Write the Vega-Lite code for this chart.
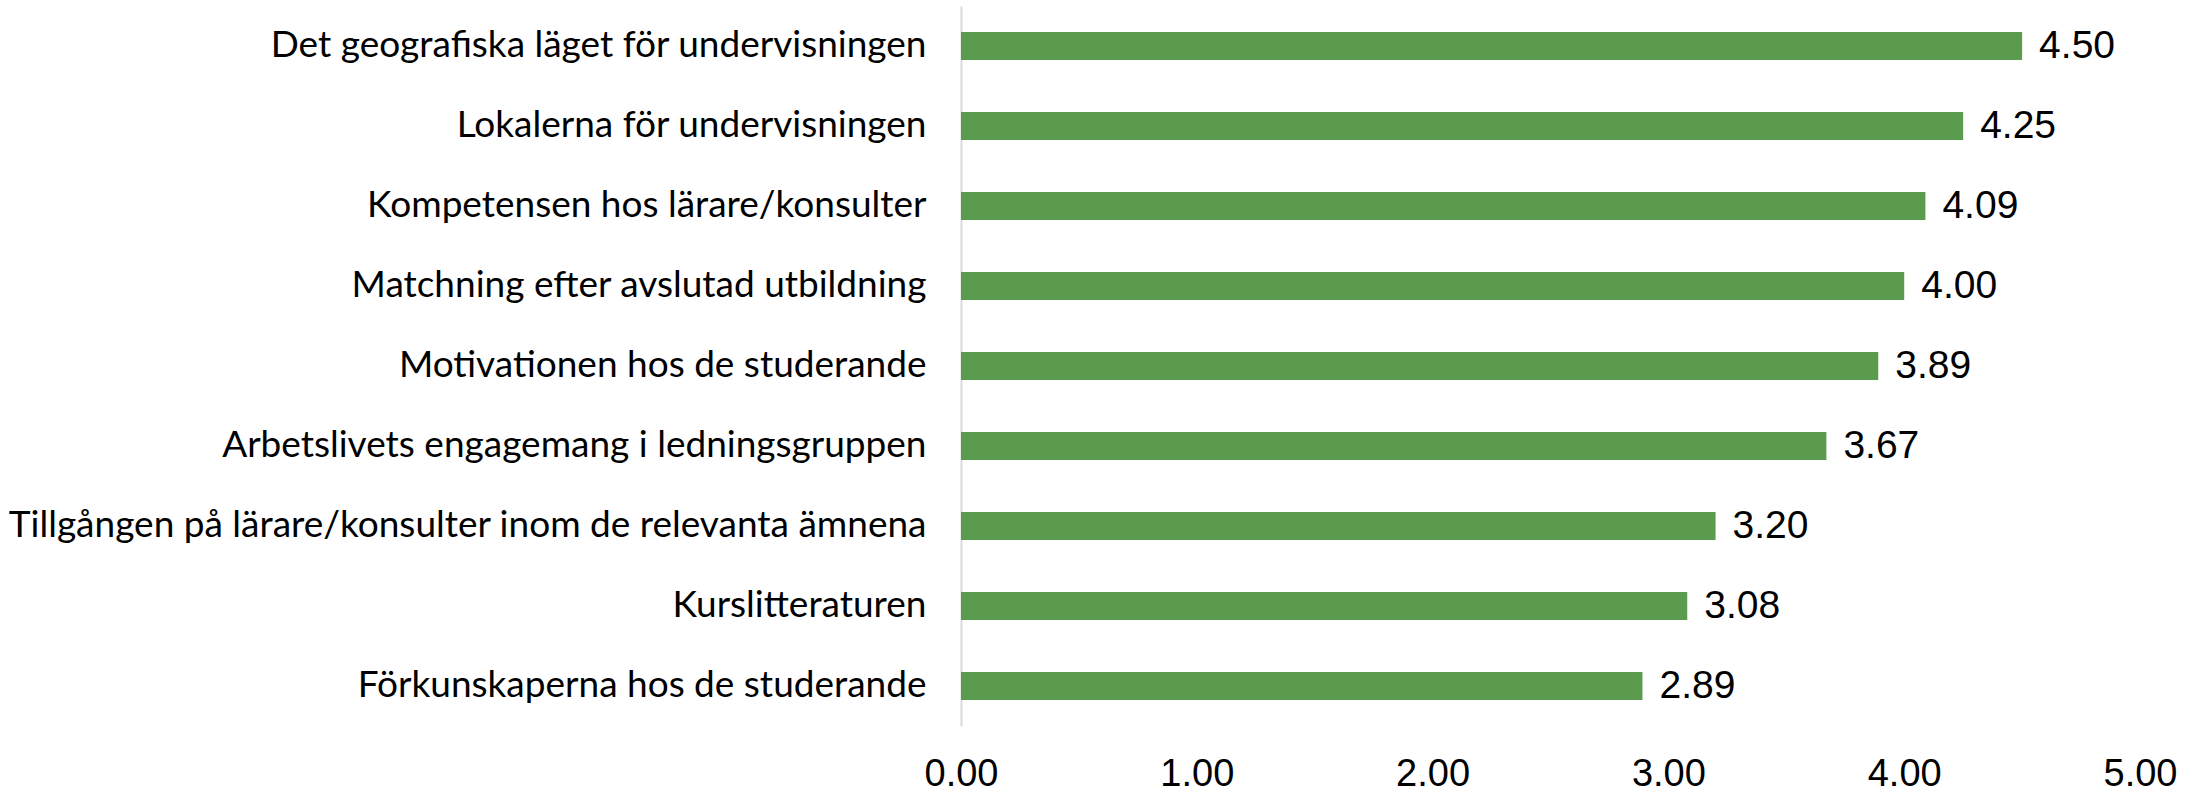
{
  "$schema": "https://vega.github.io/schema/vega-lite/v6.json",
  "autosize": "none",
  "width": 1179,
  "height": 720,
  "padding": {"left": 961, "top": 6, "right": 63, "bottom": 67},
  "background": "white",
  "config": {"view": {"stroke": null}},
  "data": {"values": [
    {"label": "Det geografiska läget för undervisningen", "value": 4.50},
    {"label": "Lokalerna för undervisningen", "value": 4.25},
    {"label": "Kompetensen hos lärare/konsulter", "value": 4.09},
    {"label": "Matchning efter avslutad utbildning", "value": 4.00},
    {"label": "Motivationen hos de studerande", "value": 3.89},
    {"label": "Arbetslivets engagemang i ledningsgruppen", "value": 3.67},
    {"label": "Tillgången på lärare/konsulter inom de relevanta ämnena", "value": 3.20},
    {"label": "Kurslitteraturen", "value": 3.08},
    {"label": "Förkunskaperna hos de studerande", "value": 2.89}
  ]},
  "encoding": {
    "y": {"field": "label", "type": "nominal", "sort": null,
      "scale": {"paddingInner": 0.65, "paddingOuter": 0.325},
      "axis": {"title": null, "ticks": false, "domainColor": "#D9D9D9", "domainWidth": 2,
        "labelFont": "Lato", "labelFontSize": 37, "labelColor": "#000000",
        "labelPadding": 35, "labelLimit": 1000}},
    "x": {"field": "value", "type": "quantitative",
      "scale": {"domain": [0, 5]},
      "axis": {"title": null, "values": [0, 1, 2, 3, 4, 5], "format": ".2f", "grid": false,
        "domain": false, "ticks": false, "labelFont": "Liberation Sans", "labelFontSize": 38,
        "labelColor": "#000000", "labelPadding": 29, "labelFlush": false}}
  },
  "layer": [
    {"mark": {"type": "bar", "color": "#5A9B4E"}},
    {"mark": {"type": "text", "align": "left", "baseline": "middle", "dx": 17,
      "font": "Liberation Sans", "fontSize": 39, "color": "#000000"},
     "encoding": {"text": {"field": "value", "type": "quantitative", "format": ".2f"}}}
  ]
}
